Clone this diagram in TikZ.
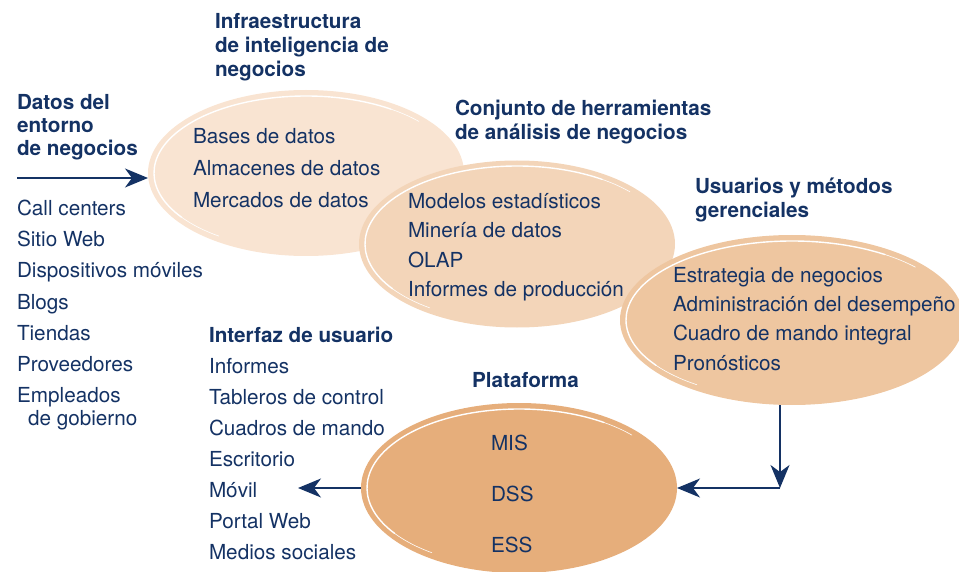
\documentclass[tikz,border=0pt]{standalone}
\usepackage{fontspec}
\setmainfont{TeX Gyre Heros}
\usetikzlibrary{shapes.geometric,arrows.meta}
\definecolor{txt}{RGB}{20,50,100}
\definecolor{ea}{RGB}{249,228,210}
\definecolor{eb}{RGB}{243,213,185}
\definecolor{ec}{RGB}{238,198,160}
\definecolor{ed}{RGB}{230,174,123}
\tikzset{
  lbl/.style={anchor=base west, inner sep=0pt, outer sep=0pt, text=txt, font=\fontsize{20.7}{25}\selectfont},
  hdr/.style={lbl, font=\fontsize{20.7}{25}\selectfont\bfseries},
  oval/.style={ellipse, draw=none, inner sep=0pt, outer sep=0pt},
  hlline/.style={draw=white, line cap=round},
  arr/.style={draw=txt, line width=1.5pt, -{Stealth[length=23pt,width=19pt,inset=7pt]}},
}
\newcommand\ovalhl[3]{%
  \draw[hlline, line width=0.6pt] (#1.center) ++(318:#2 and #3) arc[start angle=318, end angle=304, x radius=#2, y radius=#3];
  \draw[hlline, line width=1.4pt] (#1.center) ++(304:#2 and #3) arc[start angle=304, end angle=145, x radius=#2, y radius=#3];
  \draw[hlline, line width=0.6pt] (#1.center) ++(145:#2 and #3) arc[start angle=145, end angle=125, x radius=#2, y radius=#3];
}
\begin{document}
\begin{tikzpicture}[x=1pt,y=-1pt]
\useasboundingbox (0,0) rectangle (959,572);
% ovals
\node[oval, fill=ea, minimum width=316pt, minimum height=166pt] (e1) at (306,173) {};
\ovalhl{e1}{152}{77}
\node[oval, fill=eb, minimum width=316pt, minimum height=167pt] (e2) at (517,244) {};
\ovalhl{e2}{152}{78}
\node[oval, fill=ec, minimum width=344pt, minimum height=170pt] (e3) at (792,320) {};
\ovalhl{e3}{166}{79}
\node[oval, fill=ed, minimum width=316pt, minimum height=170pt] (e4) at (519,488) {};
\ovalhl{e4}{152}{79}
% headings
\foreach \t [count=\i] in {Infraestructura, de inteligencia de, negocios}
  \node[hdr] (hinf\i) at (215,{5+24*\i}) {\t};
\foreach \t [count=\i] in {Datos del, entorno, de negocios}
  \node[hdr] (hdat\i) at (17,{87+23*\i}) {\t};
\foreach \t [count=\i] in {Conjunto de herramientas, de análisis de negocios}
  \node[hdr] (hcon\i) at (455,{92+24*\i}) {\t};
\foreach \t [count=\i] in {Usuarios y métodos, gerenciales}
  \node[hdr] (husu\i) at (695,{170+24*\i}) {\t};
\node[hdr] (hint) at (209,342) {Interfaz de usuario};
\node[hdr] (hpla) at (472,387) {Plataforma};
% lists
\foreach \t [count=\i] in {Call centers, Sitio Web, Dispositivos móviles, Blogs, Tiendas, Proveedores, Empleados}
  \node[lbl] (src\i) at (17,{185+31*\i}) {\t};
\node[lbl] (src8) at (28,425) {de gobierno};
\foreach \t [count=\i] in {Bases de datos, Almacenes de datos, Mercados de datos}
  \node[lbl] (inf\i) at (193,{112+32*\i}) {\t};
\foreach \t [count=\i] in {Modelos estadísticos, Minería de datos, OLAP, Informes de producción}
  \node[lbl] (her\i) at (408,{179+29.5*\i}) {\t};
\foreach \t [count=\i] in {Estrategia de negocios, Administración del desempeño, Cuadro de mando integral, Pronósticos}
  \node[lbl] (usu\i) at (673,{254+29*\i}) {\t};
\foreach \t [count=\i] in {Informes, Tableros de control, Cuadros de mando, Escritorio, Móvil, Portal Web, Medios sociales}
  \node[lbl] (int\i) at (209,{342+31*\i}) {\t};
\node[lbl] (mis) at (491,450) {MIS};
\node[lbl] (dss) at (491,501) {DSS};
\node[lbl] (ess) at (491,552) {ESS};
% connectors
\coordinate (inA) at (17,178);
\draw[arr] (inA) -- (inA -| e1.west);
\coordinate (turn) at (780,488);
\draw[arr] (turn |- e3.south) -- (turn);
\draw[arr] (turn) -- (e4.east);
\coordinate (outM) at (298,488);
\draw[arr] (e4.west) -- (outM);
\end{tikzpicture}
\end{document}
